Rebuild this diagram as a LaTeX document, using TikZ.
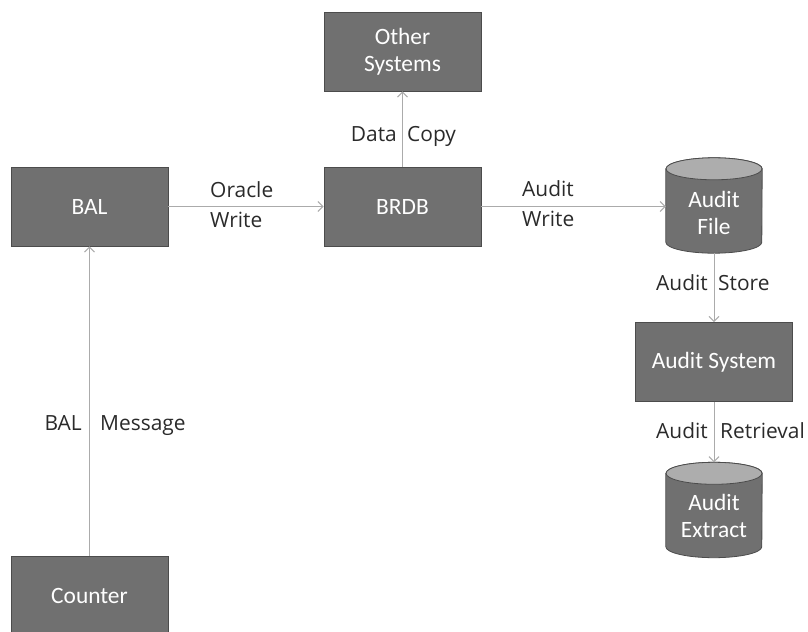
\documentclass[tikz,border=0pt]{standalone}
\usepackage{fontspec}
\setmainfont{Carlito}
\newfontfamily\labelfont{Open Sans}
\usetikzlibrary{arrows.meta}

\definecolor{boxfill}{HTML}{707070}
\definecolor{boxedge}{HTML}{4C4C4C}
\definecolor{capfill}{HTML}{ADADAD}
\definecolor{linkgray}{HTML}{ABABAB}
\definecolor{labeltext}{HTML}{2A2A2A}

\tikzset{
  procbox/.style={draw=boxedge, fill=boxfill, line width=0.8bp,
    minimum width=157bp, minimum height=79bp, inner sep=0pt,
    text=white, align=center, font=\fontsize{23.5}{27}\selectfont},
  drumframe/.style={minimum width=96bp, minimum height=95bp, inner sep=0pt},
  drumtext/.style={text=white, align=center, inner sep=0pt,
    font=\fontsize{23.5}{28}\selectfont},
  conn/.style={draw=linkgray, line width=1bp,
    -{Straight Barb[length=5bp,width=10bp]}},
  lbl/.style={text=labeltext, inner sep=0pt,
    font=\labelfont\fontsize{21}{25}\selectfont}
}

% cylinder drawn around an invisible frame node #1
\newcommand{\drumshape}[1]{%
  \filldraw[fill=boxfill, draw=boxedge, line width=0.8bp]
    ([yshift=-11bp]#1.north west) -- ([yshift=11bp]#1.south west)
    arc[start angle=180, end angle=360, x radius=48bp, y radius=11bp]
    -- ([yshift=-11bp]#1.north east)
    arc[start angle=0, end angle=180, x radius=48bp, y radius=11bp] -- cycle;
  \filldraw[fill=capfill, draw=boxedge, line width=0.8bp]
    ([yshift=-11bp]#1.north) ellipse[x radius=48bp, y radius=11bp];
}

\begin{document}
\begin{tikzpicture}[x=1bp, y=-1bp]
  \useasboundingbox (0,0) rectangle (808,632);
  \clip (0,0) rectangle (808,632);

  % process boxes
  \node[procbox] (bal)     at (89.5,206.5) {BAL};
  \node[procbox] (brdb)    at (402.5,206.5) {BRDB};
  \node[procbox] (other)   at (402.5,51.5) {Other\\Systems};
  \node[procbox] (asys)    at (714,362) {Audit System};
  \node[procbox] (counter) at (89.5,596) {Counter};

  % data stores
  \node[drumframe] (afile) at (714,205.5) {};
  \drumshape{afile}
  \node[drumtext] at ([yshift=-7.5bp]afile.center) {Audit\\File};

  \node[drumframe] (aext) at (714,510) {};
  \drumshape{aext}
  \node[drumtext] at ([yshift=-6bp]aext.center) {Audit\\Extract};

  % connectors
  \draw[conn] (bal.east) -- (brdb.west);
  \draw[conn] (brdb.east) -- (brdb.east -| afile.west);
  \draw[conn] (brdb.north) -- (other.south);
  \draw[conn] (afile.south) -- (asys.north);
  \draw[conn] (asys.south) -- (aext.north);
  \draw[conn] (counter.north) -- (bal.south);

  % connector labels
  \node[lbl, anchor=base west] at (210,198) {Oracle};
  \node[lbl, anchor=base west] at (210,228) {Write};
  \node[lbl, anchor=base west] at (522,197) {Audit};
  \node[lbl, anchor=base west] at (522,227) {Write};
  \node[lbl, anchor=base east] at (397,142) {Data};
  \node[lbl, anchor=base west] at (407,142) {Copy};
  \node[lbl, anchor=base east] at (708,290) {Audit};
  \node[lbl, anchor=base west] at (718,290) {Store};
  \node[lbl, anchor=base east] at (708,438) {Audit};
  \node[lbl, anchor=base west] at (720,438) {Retrieval};
  \node[lbl, anchor=base east] at (82,430) {BAL};
  \node[lbl, anchor=base west] at (100,430) {Message};
\end{tikzpicture}
\end{document}
